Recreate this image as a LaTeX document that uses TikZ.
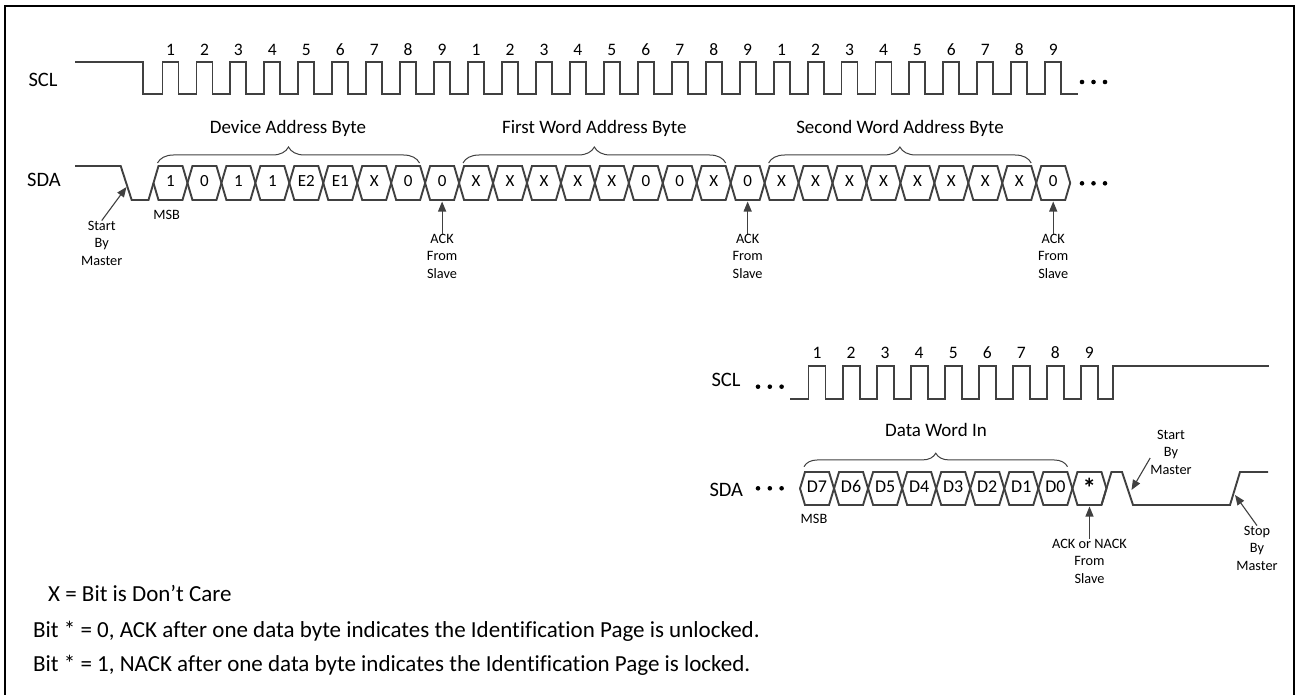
\documentclass[tikz,border=0pt]{standalone}
\usepackage{fontspec}
\setmainfont{Carlito}[Ligatures=NoCommon]
\usetikzlibrary{arrows.meta,decorations.pathreplacing}
\definecolor{sigc}{RGB}{64,64,64}
\tikzset{
 sig/.style={draw=sigc, line width=1.9pt, line join=miter},
 capt/.style={inner sep=0pt, text height=0.64em, text depth=0pt},
 lbl/.style={capt, font=\fontsize{20.5}{24}\selectfont},
 num/.style={capt, font=\fontsize{17.5}{20}\selectfont},
 cell/.style={capt, font=\fontsize{17}{19}\selectfont},
 cellb/.style={capt, font=\fontsize{18}{20}\selectfont},
 star/.style={capt, font=\fontsize{27}{27}\selectfont\bfseries},
 small/.style={inner sep=0pt, font=\fontsize{14.3}{17.5}\selectfont, align=center},
 msb/.style={capt, font=\fontsize{14.3}{17}\selectfont},
 bl/.style={capt, font=\fontsize{19}{22}\selectfont},
 note/.style={capt, anchor=west, font=\fontsize{23}{26}\selectfont},
 arr/.style={draw=sigc, line width=1.1pt, -{Triangle[length=10pt,width=8pt]}},
 br/.style={draw=sigc, line width=1pt, decorate, decoration={brace, amplitude=#1}},
 dot/.style={fill=black, circle, inner sep=0pt, minimum size=4.6pt},
}
\begin{document}
\begin{tikzpicture}[x=1pt,y=-1pt]
\useasboundingbox (0,0) rectangle (1295,695);
% frame
\draw[line width=1.4pt] (5,696) -- (5,6) -- (1294,6) -- (1294,696);

% ---------- top SCL ----------
\node[lbl] (sclA) at (43,83.3) {SCL};
\draw[sig] (75,62) -- (143,62) -- (143,94)
  \foreach \k in {1,...,27}{ -- ({170.5+(\k-1)*33.95-8},94) -- ++(0,-32) -- ++(16,0) -- ++(0,32)}
  -- (1078,94);
\foreach \k in {1,...,27}{
  \pgfmathtruncatemacro\n{mod(\k-1,9)+1}
  \node[num] (nA\k) at ({170.5+(\k-1)*33.95},52) {\n};
}
\node[dot] (sclAd1) at (1082,82) {};
\node[dot] (sclAd2) at (1093.5,82) {};
\node[dot] (sclAd3) at (1105,82) {};

% ---------- top SDA ----------
\node[lbl] (sdaA) at (44,183.3) {SDA};
\draw[sig] (75,166) -- (120.7,166) -- (131.7,200) -- (148.5,200) -- (153.5,183);
\foreach \t [count=\k] in {1,0,1,1,E2,E1,X,0,0,X,X,X,X,X,0,0,X,0,X,X,X,X,X,X,X,X,0}{
  \pgfmathsetmacro\cx{170.5+(\k-1)*33.95}
  \draw[sig] (\cx-17,183) -- (\cx-12,166) -- (\cx+12,166) -- (\cx+17,183) -- (\cx+12,200) -- (\cx-12,200) -- cycle;
  \node[cell] (tA\k) at (\cx,183.5) {\t};
}
\node[dot] (sdaAd1) at (1082,183.3) {};
\node[dot] (sdaAd2) at (1093.5,183.3) {};
\node[dot] (sdaAd3) at (1105,183.3) {};

% braces top
\draw[br=16pt] (157.5,163) -- (419.5,163);
\node[bl] (devb) at (288,130) {Device Address Byte};
\draw[br=16pt] (463,163) -- (725.7,163);
\node[bl] (fwb) at (594.3,130) {First Word Address Byte};
\draw[br=16pt] (768.6,163) -- (1031.2,163);
\node[bl] (swb) at (900,130) {Second Word Address Byte};

% labels / arrows top
\node[msb] (msbA) at (166.7,216) {MSB};
\node[small] (sbmA) at (101.7,243) {Start\\By\\Master};
\coordinate (sbmAtip) at (126.5,187);
\draw[arr] (sbmA.north) -- (sbmAtip);
\foreach \k/\nm in {9/ackA,18/ackB,27/ackC}{
  \pgfmathsetmacro\cx{170.5+(\k-1)*33.95}
  \node[small] (\nm) at (\cx,256) {ACK\\From\\Slave};
  \coordinate (\nm tip) at (\cx,201.5);
  \draw[arr] (\nm.north) -- (\nm tip);
}

% ---------- bottom SCL ----------
\node[lbl] (sclB) at (726,383.3) {SCL};
\node[dot] (sclBd1) at (758,386.7) {};
\node[dot] (sclBd2) at (769.8,386.7) {};
\node[dot] (sclBd3) at (781.6,386.7) {};
\draw[sig] (790,399)
  \foreach \k in {1,...,9}{ -- ({817+(\k-1)*34.05-8.5},399) -- ++(0,-33) -- ++(17,0) -- ++(0,33)}
  -- (1113,399) -- (1113,366) -- (1269,366);
\foreach \k in {1,...,9}{
  \node[num] (nB\k) at ({817+(\k-1)*34.05},355) {\k};
}

% ---------- bottom SDA ----------
\node[lbl] (sdaB) at (726.3,493) {SDA};
\node[dot] (sdaBd1) at (758,488.3) {};
\node[dot] (sdaBd2) at (769.8,488.3) {};
\node[dot] (sdaBd3) at (781.6,488.3) {};
\foreach \t [count=\k] in {D7,D6,D5,D4,D3,D2,D1,D0}{
  \pgfmathsetmacro\cx{817+(\k-1)*34.05}
  \draw[sig] (\cx-17,488.5) -- (\cx-12,472) -- (\cx+12,472) -- (\cx+17,488.5) -- (\cx+12,505) -- (\cx-12,505) -- cycle;
  \node[cellb] (tB\k) at (\cx,489) {\t};
}
\draw[sig] (1072.45,488.5) -- (1077.45,472) -- (1101.45,472) -- (1106.45,488.5) -- (1101.45,505) -- (1077.45,505) -- cycle;
\node[star] (tB9) at (1089.45,488.5) {\raisebox{-0.2em}{*}};
\draw[sig] (1101.45,505) -- (1111.45,472) -- (1122,472) -- (1133,505) -- (1230,505) -- (1240,472) -- (1268,472);

\draw[br=13.5pt] (804,466.7) -- (1067.5,466.7);
\node[bl] (dwi) at (936,433.3) {Data Word In};
\node[msb] (msbB) at (814,520) {MSB};

\node[small] (ackD) at (1089.5,561) {ACK or NACK\\From\\Slave};
\coordinate (ackDtip) at (1089.5,506.5);
\draw[arr] (ackD.north) -- (ackDtip);

\node[small] (sbmB) at (1171,452) {Start\\By\\Master};
\coordinate (sbmBtip) at (1131.5,490);
\draw[arr] ([yshift=-6pt]sbmB.west) -- (sbmBtip);

\node[small] (stopB) at (1257,548) {Stop\\By\\Master};
\coordinate (stopBtip) at (1235,495);
\draw[arr] (stopB.north) -- (stopBtip);

% ---------- notes ----------
\node[note] (n1) at (48,598) {X = Bit is Don’t Care};
\node[note] (n2) at (33,634) {Bit * = 0, ACK after one data byte indicates the Identification Page is unlocked.};
\node[note] (n3) at (33,668) {Bit * = 1, NACK after one data byte indicates the Identification Page is locked.};
\end{tikzpicture}
\end{document}
